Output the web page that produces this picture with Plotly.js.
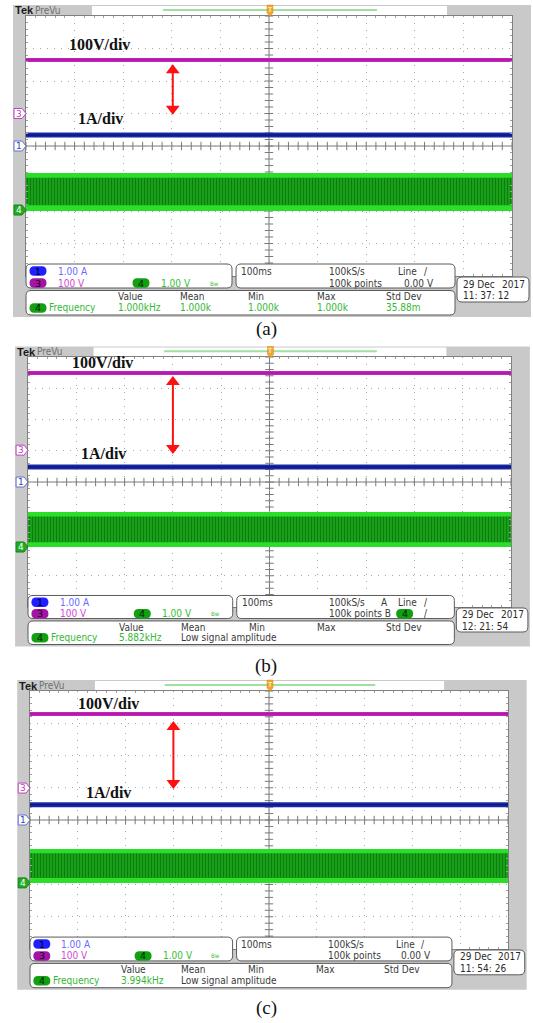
<!DOCTYPE html>
<html><head><meta charset="utf-8">
<script src="https://cdn.plot.ly/plotly-3.0.1.min.js"></script>
<style>html,body{margin:0;padding:0;background:#fff}</style>
</head><body><div id="chart" style="width:533px;height:1023px"></div>
<script>
// ---------- data (in oscilloscope divisions) ----------
const captions = ['(a)', '(b)', '(c)'];
const timeSpan = [0, 10];
const voltageLevel = [2.65, 3.49, 3.29];     // CH3, 100V/div
const currentLevel = [0.34, 0.48, 0.47];     // CH1, 1A/div
const pwmOuterLow = [-2.0, -2.08, -1.95];    // CH4 band
const pwmOuterHigh = [-0.83, -0.96, -0.90];
const pwmInnerLow = [-1.82, -1.93, -1.80];
const pwmInnerHigh = [-0.98, -1.10, -1.03];
const ch3Offset = [1.0, 1.02, 0.99];
const ch1Offset = [0, 0, 0];
const ch4Offset = [-1.97, -2.08, -1.95];
const arrowTop = [2.33, 3.2, 2.88];
const arrowBottom = [1.15, 1.09, 1.15];
const arrowX = [3.02, 3.0, 3.0];
const voltLabel = '100V/div';
const ampLabel = '1A/div';
const ch1Scale = '1.00 A', ch3Scale = '100 V', ch4Scale = '1.00 V';
const timeBase = '100ms', sampleRate = '100kS/s', recordLen = '100k points';
const measHeaders = ['Value', 'Mean', 'Min', 'Max', 'Std Dev'];
const freqValue = ['1.000kHz', '5.882kHz', '3.994kHz'];
const freqMean = ['1.000k', 'Low signal amplitude', 'Low signal amplitude'];
const freqMin = ['1.000k', '', ''];
const freqMax = ['1.000k', '', ''];
const freqStd = ['35.88m', '', ''];
const dateText = ['29 Dec', '29 Dec', '29 Dec'];
const yearText = ['2017', '2017', '2017'];
const clockText = ['11: 37: 12', '12: 21: 54', '11: 54: 26'];

// ---------- geometry ----------
const W = 533, H = 1023;
const px = x => x / W, py = y => 1 - y / H;
const GEO = [
  {gx0: 26, gx1: 512, gy0: 16, gy1: 276, l1: [99, 45], l2: [100, 118]},
  {gx0: 28, gx1: 511, gy0: 357, gy1: 607, l1: [102, 362], l2: [103, 453]},
  {gx0: 30, gx1: 508, gy0: 691, gy1: 949, l1: [108, 703], l2: [108, 792]}
];
const capY = [329, 666, 1008];
function M(g, lx, ly) { return [g.gx0 + (lx - 26) * (g.gx1 - g.gx0) / 486, g.gy0 + (ly - 16) * (g.gy1 - g.gy0) / 260]; }

const SANS = 'Liberation Sans Narrow, DejaVu Sans Condensed, Arial Narrow, sans-serif';
const FS = 10;
const data = [], shapes = [], ann = [];
function rrPath(x0, y0, x1, y1, r) {
  const X = px, Y = py;
  return `M${X(x0 + r)},${Y(y0)} L${X(x1 - r)},${Y(y0)} Q${X(x1)},${Y(y0)} ${X(x1)},${Y(y0 + r)} L${X(x1)},${Y(y1 - r)} Q${X(x1)},${Y(y1)} ${X(x1 - r)},${Y(y1)} L${X(x0 + r)},${Y(y1)} Q${X(x0)},${Y(y1)} ${X(x0)},${Y(y1 - r)} L${X(x0)},${Y(y0 + r)} Q${X(x0)},${Y(y0)} ${X(x0 + r)},${Y(y0)} Z`;
}
function rect(x0, y0, x1, y1, fill, line, lw, layer) {
  shapes.push({type: 'rect', xref: 'paper', yref: 'paper', x0: px(x0), x1: px(x1), y0: py(y1), y1: py(y0),
    fillcolor: fill, line: {color: line || fill, width: lw || 0}, layer: layer || 'above'});
}
function pathS(path, fill, line, lw, layer) {
  shapes.push({type: 'path', xref: 'paper', yref: 'paper', path: path, fillcolor: fill,
    line: {color: line || fill, width: lw === undefined ? 1 : lw}, layer: layer || 'above'});
}
function txt(x, y, t, color, size, extra) {
  if (!t) return;
  ann.push(Object.assign({xref: 'paper', yref: 'paper', x: px(x), y: py(y), text: t, showarrow: false,
    xanchor: 'left', yanchor: 'middle', borderpad: 0,
    font: {family: SANS, size: size || FS, color: color}}, extra || {}));
}

const layout = {
  width: W, height: H, margin: {l: 0, r: 0, t: 0, b: 0}, showlegend: false,
  paper_bgcolor: '#ffffff', plot_bgcolor: 'rgba(0,0,0,0)'
};

GEO.forEach((g, i) => {
  const s = i === 0 ? '' : String(i + 1);
  const xa = 'x' + s, ya = 'y' + s;
  const P = (lx, ly) => M(g, lx, ly);
  const divY = v => g.gy0 + (4 - v) * (g.gy1 - g.gy0) / 8;

  // frame & header
  let a = P(13, 5), b = P(531, 317);
  rect(a[0], a[1], b[0], b[1], '#c9c9c9', null, 0, 'below');
  rect(g.gx0, g.gy0, g.gx1, g.gy1, '#ffffff', null, 0, 'below');
  a = P(92, 6); b = P(447, 15);
  rect(a[0], a[1], b[0], b[1], '#ffffff', null, 0, 'below');
  a = P(163, 10); b = P(377, 10);
  shapes.push({type: 'line', xref: 'paper', yref: 'paper', x0: px(a[0]), x1: px(b[0]), y0: py(a[1]), y1: py(b[1]), line: {color: '#9ee09e', width: 2}, layer: 'below'});
  a = P(14, 10.5); txt(a[0], a[1], '<b>Tek</b>', '#1a1a1a', 11, {font: {family: 'Liberation Sans, Arial, sans-serif', size: 11, color: '#1a1a1a'}});
  a = P(34, 10.5); txt(a[0], a[1], 'PreVu', '#707070', 10);
  // trigger position marker
  a = P(270, 5);
  pathS(`M${px(a[0] - 3)},${py(a[1])} L${px(a[0] + 3)},${py(a[1])} L${px(a[0] + 3)},${py(a[1] + 8)} L${px(a[0])},${py(a[1] + 11)} L${px(a[0] - 3)},${py(a[1] + 8)} Z`, '#f2a62a', '#e08a10', 0.5);
  txt(a[0], a[1] + 5, 'T', '#ffffff', 7, {xanchor: 'center', font: {family: 'DejaVu Sans', size: 7, color: '#ffffff'}});

  // axes
  const common = {showticklabels: false, zeroline: false, fixedrange: true, showgrid: true,
    gridcolor: '#a8a8a8', griddash: '1px,6px', gridwidth: 1, showline: true, linecolor: '#808080',
    linewidth: 1, mirror: 'ticks', ticks: '', dtick: 1, tick0: 0,
    minor: {dtick: 0.2, tick0: 0, ticks: 'inside', ticklen: 2, tickcolor: '#a0a0a0', showgrid: false}};
  layout['xaxis' + s] = Object.assign({}, common, {domain: [px(g.gx0), px(g.gx1)], range: [0, 10], anchor: ya});
  layout['yaxis' + s] = Object.assign({}, common, {domain: [py(g.gy1), py(g.gy0)], range: [-4, 4], anchor: xa});

  // center graticule cross
  shapes.push({type: 'line', xref: xa, yref: ya, x0: 0, x1: 10, y0: 0, y1: 0, line: {color: '#7a7a7a', width: 1}, layer: 'below'});
  shapes.push({type: 'line', xref: xa, yref: ya, x0: 5, x1: 5, y0: -4, y1: 4, line: {color: '#7a7a7a', width: 1}, layer: 'below'});
  const hx = [], hy = [], vx = [], vy = [];
  for (let k = 0; k <= 50; k++) { hx.push(k * 0.2); hy.push(0); }
  for (let k = 0; k <= 40; k++) { vx.push(5); vy.push(-4 + k * 0.2); }
  data.push({type: 'scatter', mode: 'markers', x: hx, y: hy, xaxis: xa, yaxis: ya, hoverinfo: 'skip',
    marker: {symbol: 'line-ns', size: 6, line: {color: '#7a7a7a', width: 1}}});
  data.push({type: 'scatter', mode: 'markers', x: vx, y: vy, xaxis: xa, yaxis: ya, hoverinfo: 'skip',
    marker: {symbol: 'line-ew', size: 6, line: {color: '#7a7a7a', width: 1}}});

  // CH4 PWM band
  data.push({type: 'scatter', mode: 'lines', xaxis: xa, yaxis: ya, hoverinfo: 'skip',
    x: [timeSpan[0], timeSpan[1], timeSpan[1], timeSpan[0]],
    y: [pwmOuterLow[i], pwmOuterLow[i], pwmOuterHigh[i], pwmOuterHigh[i]],
    fill: 'toself', fillcolor: '#2ade2a', line: {width: 0, color: '#2ade2a'}});
  data.push({type: 'scatter', mode: 'lines', xaxis: xa, yaxis: ya, hoverinfo: 'skip',
    x: [timeSpan[0], timeSpan[1], timeSpan[1], timeSpan[0]],
    y: [pwmInnerLow[i], pwmInnerLow[i], pwmInnerHigh[i], pwmInnerHigh[i]],
    fill: 'toself', fillcolor: '#17a017', line: {width: 0, color: '#17a017'},
    fillpattern: {shape: '|', fgcolor: '#0d7d0d', bgcolor: '#1aa81a', size: 3, solidity: 0.45}});
  // CH1 current
  data.push({type: 'scatter', mode: 'lines', xaxis: xa, yaxis: ya, hoverinfo: 'skip',
    x: timeSpan, y: [currentLevel[i], currentLevel[i]], line: {color: '#1a2aa6', width: 5}});
  data.push({type: 'scatter', mode: 'lines', xaxis: xa, yaxis: ya, hoverinfo: 'skip',
    x: timeSpan, y: [currentLevel[i], currentLevel[i]], line: {color: '#0c1888', width: 1.5}});
  // CH3 voltage
  data.push({type: 'scatter', mode: 'lines', xaxis: xa, yaxis: ya, hoverinfo: 'skip',
    x: timeSpan, y: [voltageLevel[i], voltageLevel[i]], line: {color: '#c423bd', width: 4}});
  data.push({type: 'scatter', mode: 'lines', xaxis: xa, yaxis: ya, hoverinfo: 'skip',
    x: timeSpan, y: [voltageLevel[i], voltageLevel[i]], line: {color: '#a0169a', width: 1}});

  // red double arrow (line with triangle heads)
  data.push({type: 'scatter', mode: 'lines+markers', xaxis: xa, yaxis: ya, hoverinfo: 'skip',
    x: [arrowX[i], arrowX[i]], y: [arrowTop[i], arrowBottom[i]],
    line: {color: '#ff1010', width: 2},
    marker: {symbol: ['triangle-up', 'triangle-down'], size: 12, color: '#ff1010', line: {width: 0}}});

  // labels
  const serif = {family: 'Liberation Serif, Times New Roman, serif', size: 16, color: '#111111'};
  ann.push({xref: 'paper', yref: 'paper', x: px(g.l1[0]), y: py(g.l1[1]), text: '<b>' + voltLabel + '</b>', showarrow: false, xanchor: 'center', yanchor: 'middle', font: serif});
  ann.push({xref: 'paper', yref: 'paper', x: px(g.l2[0]), y: py(g.l2[1]), text: '<b>' + ampLabel + '</b>', showarrow: false, xanchor: 'center', yanchor: 'middle', font: serif});

  // channel markers on the left
  const a0x = P(13, 0)[0] + 1;
  const mk = (lvl, label, fill, edge, tcol) => {
    const y = divY(lvl), x0 = a0x, x1 = g.gx0;
    pathS(`M${px(x0)},${py(y - 5)} L${px(x1 - 4)},${py(y - 5)} L${px(x1)},${py(y)} L${px(x1 - 4)},${py(y + 5)} L${px(x0)},${py(y + 5)} Z`, fill, edge, 1);
    txt((x0 + x1 - 3) / 2, y, label, tcol, 9, {xanchor: 'center', font: {family: 'DejaVu Sans', size: 9, color: tcol}});
  };
  mk(ch3Offset[i], '3', '#ffffff', '#c040c0', '#c040c0');
  mk(ch1Offset[i], '1', '#fffff0', '#6070e0', '#3040d0');
  mk(ch4Offset[i], '4', '#22aa22', '#118811', '#ffffff');

  // info boxes
  let p0, p1;
  p0 = P(26, 264); p1 = P(232, 288); pathS(rrPath(p0[0], p0[1], p1[0], p1[1], 5), '#ffffff', '#5a5a5a', 1);
  p0 = P(236, 264); p1 = P(455, 288); pathS(rrPath(p0[0], p0[1], p1[0], p1[1], 5), '#ffffff', '#5a5a5a', 1);
  p0 = P(26, 290.5); p1 = P(455, 315); pathS(rrPath(p0[0], p0[1], p1[0], p1[1], 5), '#ffffff', '#5a5a5a', 1);
  p0 = P(457, 277); p1 = P(529, 302); pathS(rrPath(p0[0], p0[1], p1[0], p1[1], 5), '#ffffff', '#5a5a5a', 1);

  const pill = (cx, cy, label, fill, tcol) => {
    const c = P(cx, cy);
    pathS(rrPath(c[0] - 8.5, c[1] - 4.7, c[0] + 8.5, c[1] + 4.7, 4.7), fill, fill, 0);
    txt(c[0], c[1], label, tcol, 9.5, {xanchor: 'center', font: {family: 'DejaVu Sans', size: 9.5, color: tcol}});
  };
  const T = (lx, ly, t, col, size, extra) => { const c = P(lx, ly); txt(c[0], c[1], t, col, size, extra); };
  pill(38, 271, '1', '#1f1fff', '#000030');
  pill(38, 283, '3', '#a214a2', '#200020');
  pill(141, 283, '4', '#12a012', '#002000');
  T(57, 271, ch1Scale, '#6a6aff');
  T(57, 283, ch3Scale, '#d448d4');
  T(160, 283, ch4Scale, '#34c034');
  T(209, 283, 'Bw', '#34c034', 6);
  T(240, 271, timeBase, '#3a3a3a');
  T(328, 271, sampleRate, '#3a3a3a');
  T(328, 283, recordLen + (i === 1 ? ' B' : ''), '#3a3a3a');
  if (i === 1) T(380, 271, 'A', '#3a3a3a');
  T(397, 271, 'Line', '#3a3a3a');
  T(423, 271, '/', '#3a3a3a');
  if (i === 1) { pill(405, 283, '4', '#12a012', '#002000'); T(423, 283, '/', '#3a3a3a'); }
  else T(435, 283, '0.00 V', '#3a3a3a', FS, {xanchor: 'right'});

  const cols = [117, 179, 247, 316, 385];
  measHeaders.forEach((h, k) => T(cols[k], 297, h, '#3a3a3a'));
  pill(38, 308, '4', '#12a012', '#002000');
  T(48, 308, 'Frequency', '#34b834');
  T(117, 308, freqValue[i], '#34b834');
  const meanCol = freqMean[i].length > 8 ? '#3a3a3a' : '#34b834';
  T(179, 308, freqMean[i], meanCol);
  T(247, 308, freqMin[i], '#34b834');
  T(316, 308, freqMax[i], '#34b834');
  T(385, 308, freqStd[i], '#34b834');
  T(462, 284, dateText[i], '#2a2a2a');
  T(526, 284, yearText[i], '#2a2a2a', FS, {xanchor: 'right'});
  T(462, 296, clockText[i], '#2a2a2a');

  // caption
  ann.push({xref: 'paper', yref: 'paper', x: px(266), y: py(capY[i]), text: captions[i], showarrow: false,
    xanchor: 'center', yanchor: 'middle', font: {family: 'Liberation Serif, Times New Roman, serif', size: 19, color: '#111111'}});
});

layout.shapes = shapes;
layout.annotations = ann;
Plotly.newPlot('chart', data, layout, {staticPlot: true, displayModeBar: false});
</script>
</body></html>
